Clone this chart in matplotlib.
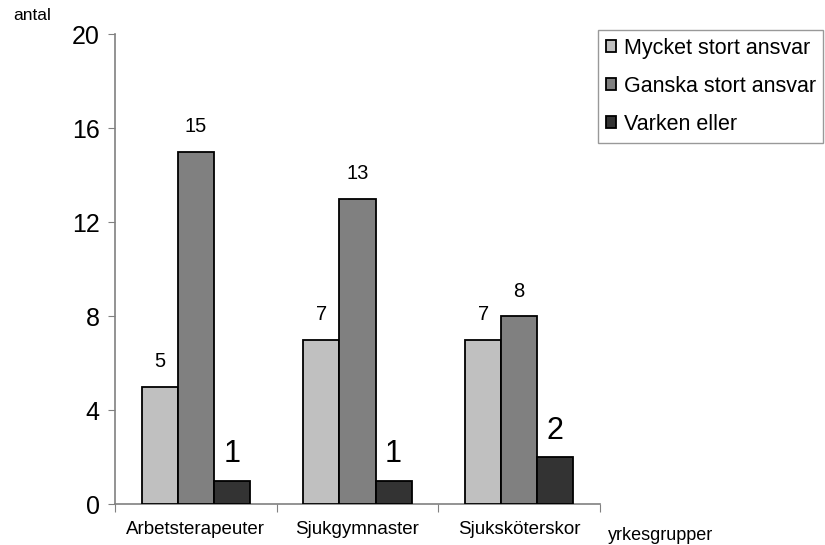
import matplotlib
matplotlib.use("Agg")
import matplotlib.pyplot as plt
import numpy as np

plt.rcParams['font.family'] = ['Liberation Sans', 'DejaVu Sans']

categories = ["Arbetsterapeuter", "Sjukgymnaster", "Sjuksköterskor"]
series_names = ["Mycket stort ansvar", "Ganska stort ansvar", "Varken eller"]
mycket = [5, 7, 7]
ganska = [15, 13, 8]
varken = [1, 1, 2]
y_ticks = [0, 4, 8, 12, 16, 20]

colors = ["#C0C0C0", "#808080", "#333333"]
label_sizes = [14.5, 14.5, 22]
label_gaps = [14, 14, 13]

fig = plt.figure(figsize=(8.25, 5.45), dpi=100)
ax = fig.add_axes([115 / 825, 1 - 504 / 545, 485 / 825, 470 / 545])

x = np.arange(len(categories))
width = 0.223
for i, (vals, name) in enumerate(zip([mycket, ganska, varken], series_names)):
    pos = x + (i - 1) * width
    ax.bar(pos, vals, width, color=colors[i], edgecolor="black",
           linewidth=1.3, label=name, zorder=3)
    for px, v in zip(pos, vals):
        ax.annotate(str(v), (px, v), xytext=(0, label_gaps[i]),
                    textcoords="offset points", ha="center", va="baseline",
                    fontsize=label_sizes[i])

ax.set_xlim(-0.5, 2.5)
ax.set_ylim(0, 20)
ax.set_yticks(y_ticks)
ax.tick_params(axis="y", labelsize=18, length=5, color="#808080", pad=6)

ax.set_xticks([-0.5, 0.5, 1.5, 2.5])
ax.set_xticklabels([])
ax.tick_params(axis="x", which="major", length=6, color="#808080")
ax.set_xticks(x, minor=True)
ax.set_xticklabels(categories, minor=True, fontsize=13.5)
ax.tick_params(axis="x", which="minor", length=0, pad=12)

for side in ["top", "right"]:
    ax.spines[side].set_visible(False)
for side in ["left", "bottom"]:
    ax.spines[side].set_color("#808080")
    ax.spines[side].set_linewidth(1.2)

fig.text(13 / 825, 1 - 16 / 545, "antal", fontsize=12.5, va="center", ha="left")
fig.text(608 / 825, 1 - 535 / 545, "yrkesgrupper", fontsize=13, va="center", ha="left")

leg = fig.legend(loc="upper left", bbox_to_anchor=(598 / 825, 1 - 30 / 545),
                 fontsize=15.5, handlelength=0.5, handleheight=0.5,
                 handletextpad=0.35, labelspacing=0.8, borderpad=0.35,
                 borderaxespad=0, fancybox=False, frameon=True)
leg.get_frame().set_edgecolor("#808080")
leg.get_frame().set_linewidth(1.0)

fig.savefig("out.png", dpi=100)
